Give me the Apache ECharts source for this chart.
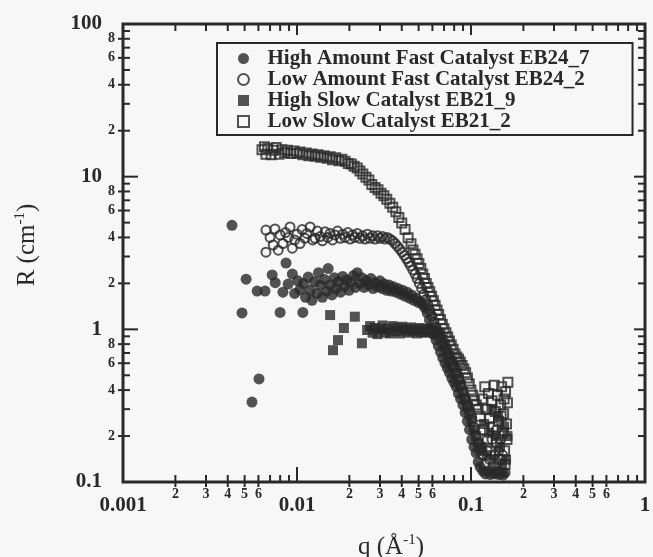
<!DOCTYPE html>
<html><head><meta charset="utf-8">
<script src="https://cdn.jsdelivr.net/npm/echarts@6/dist/echarts.min.js"></script>
<style>html,body{margin:0;padding:0;background:#f7f7f5}#c{width:653px;height:557px}</style>
</head><body><div id="c"></div>
<script>
const seriesNames = ['High Amount Fast Catalyst EB24_7','Low Amount Fast Catalyst EB24_2','High Slow Catalyst EB21_9','Low Slow Catalyst EB21_2'];

const highFastEB24_7 = [[0.00423,4.8],[0.00483,1.28],[0.0051,2.13],[0.00551,0.334],[0.00605,0.473],[0.0059,1.78],[0.00655,1.78],[0.0072,2.27],[0.0075,2.02],[0.0080,1.29],[0.0083,1.75],[0.00865,2.72],[0.0089,1.98],[0.0094,2.3],[0.0097,1.72],[0.0101,2.08],[0.0104,1.82],[0.0108,1.29],[0.0109,2.0],[0.0112,1.62],[0.0116,2.2],[0.0119,1.8],[0.0122,1.55],[0.0126,2.05],[0.013,1.72],[0.0133,2.35],[0.0136,1.95],[0.014,1.62],[0.0144,2.12],[0.0148,1.78],[0.0151,2.5],[0.0155,1.95],[0.0159,1.68],[0.0164,2.18],[0.0168,1.85],[0.0173,2.05],[0.0178,1.75],[0.0183,2.22],[0.0188,1.92],[0.0193,2.1],[0.0199,1.8],[0.0205,2.05],[0.0211,2.25],[0.0217,1.88],[0.0222,2.35],[0.0229,2.0],[0.0236,2.18],[0.0243,1.88],[0.025,2.08],[0.0258,1.95],[0.0266,2.15],[0.0274,1.85],[0.0282,2.02],[0.0291,1.9],[0.03,2.08],[0.0309,1.85],[0.0318,1.98],[0.0328,1.8],[0.0338,1.95],[0.0348,1.78],[0.0359,1.9],[0.037,1.75],[0.0381,1.85],[0.0393,1.7],[0.0405,1.8],[0.0417,1.65],[0.043,1.75],[0.0443,1.6],[0.0456,1.68],[0.047,1.55],[0.0484,1.6],[0.0498,1.5],[0.0513,1.52],[0.0528,1.45],[0.0544,1.38],[0.056,1.28],[0.0577,1.15],[0.0594,1.02],[0.0612,0.92],[0.063,0.85],[0.0649,0.78],[0.0668,0.71],[0.0688,0.65],[0.0709,0.6],[0.073,0.56],[0.0752,0.52],[0.0775,0.48],[0.0798,0.45],[0.0822,0.42],[0.0847,0.38],[0.0872,0.35],[0.0898,0.32],[0.0925,0.285],[0.0953,0.25],[0.0981,0.22],[0.101,0.19],[0.104,0.17],[0.107,0.155],[0.11,0.135],[0.113,0.125],[0.117,0.118],[0.121,0.113],[0.125,0.118],[0.129,0.112],[0.133,0.12],[0.137,0.113],[0.141,0.118],[0.145,0.112],[0.149,0.116],[0.153,0.111],[0.157,0.115]];

const lowFastEB24_2 = [[0.00663,4.47],[0.00663,3.2],[0.007,4.0],[0.0073,3.57],[0.00747,4.55],[0.0078,3.3],[0.008,4.15],[0.0083,3.65],[0.0086,4.3],[0.0089,4.0],[0.00912,4.68],[0.0094,3.4],[0.0097,3.85],[0.01,4.2],[0.0104,3.65],[0.0107,4.5],[0.0111,3.95],[0.0114,4.25],[0.0119,4.68],[0.0123,3.85],[0.0127,3.95],[0.0131,4.4],[0.0136,4.05],[0.014,3.8],[0.0145,4.35],[0.015,4.0],[0.0155,4.25],[0.016,3.85],[0.0165,4.15],[0.0171,4.4],[0.0177,3.95],[0.0183,4.2],[0.0189,4.0],[0.0196,4.3],[0.0202,3.9],[0.0209,4.15],[0.0215,4.0],[0.0222,4.25],[0.023,3.95],[0.0238,4.1],[0.0246,3.9],[0.0254,4.2],[0.0263,3.95],[0.0272,4.1],[0.0281,3.9],[0.029,4.1],[0.03,3.95],[0.031,4.05],[0.032,3.9],[0.033,4.0],[0.0342,3.9],[0.0354,3.8],[0.0366,3.65],[0.0378,3.5],[0.039,3.35],[0.0402,3.2],[0.0414,3.05],[0.0426,2.9],[0.0438,2.75],[0.045,2.6],[0.0463,2.45],[0.0477,2.3],[0.049,2.15],[0.0505,2.0],[0.052,1.85],[0.0535,1.7],[0.055,1.57],[0.0566,1.45],[0.058,1.33],[0.0597,1.22],[0.0613,1.12],[0.063,1.03],[0.0649,0.95],[0.0668,0.88],[0.0688,0.81],[0.0709,0.75],[0.073,0.69],[0.0752,0.64],[0.0775,0.59],[0.0798,0.55],[0.0822,0.51],[0.0847,0.47],[0.0872,0.43],[0.0898,0.39],[0.0925,0.35],[0.0953,0.32],[0.0981,0.29],[0.101,0.26],[0.104,0.23],[0.107,0.2],[0.11,0.18],[0.113,0.165],[0.117,0.15],[0.12,0.13],[0.124,0.16],[0.128,0.14],[0.132,0.19],[0.136,0.15],[0.14,0.22],[0.144,0.16],[0.148,0.19],[0.152,0.15]];

const highSlowEB21_9 = [[0.0155,1.24],[0.0161,0.73],[0.0172,0.85],[0.0186,1.02],[0.0215,1.21],[0.0236,0.81],[0.0253,0.99],[0.0263,1.05],[0.0272,0.95],[0.0281,1.02],[0.029,0.93],[0.03,1.0],[0.031,1.06],[0.032,0.95],[0.0331,1.01],[0.0342,0.94],[0.0354,1.05],[0.0366,0.97],[0.0378,1.02],[0.039,0.94],[0.0402,1.04],[0.0414,0.98],[0.0426,1.01],[0.0438,0.95],[0.045,1.03],[0.0463,0.97],[0.0477,1.0],[0.049,0.94],[0.0505,1.02],[0.052,0.96],[0.0535,1.0],[0.055,0.95],[0.0566,1.01],[0.058,0.96],[0.0597,0.99],[0.0613,0.95],[0.063,0.98],[0.0649,0.94],[0.0668,0.93],[0.0688,0.86],[0.0709,0.8],[0.073,0.73],[0.0752,0.67],[0.0775,0.62],[0.0798,0.57],[0.0822,0.52],[0.0847,0.47],[0.0872,0.43],[0.0898,0.39],[0.0925,0.35],[0.0953,0.31],[0.0981,0.28],[0.101,0.25],[0.104,0.22],[0.107,0.2],[0.11,0.18],[0.113,0.16],[0.115,0.17],[0.119,0.24],[0.123,0.15],[0.127,0.21],[0.131,0.3],[0.135,0.14],[0.139,0.2],[0.143,0.27],[0.147,0.17],[0.151,0.13],[0.155,0.23],[0.159,0.14],[0.162,0.2]];

const lowSlowEB21_2 = [[0.00629,15.0],[0.0065,15.7],[0.00663,14.0],[0.0068,15.3],[0.0071,13.9],[0.0073,14.9],[0.0076,15.5],[0.0079,14.0],[0.0082,15.0],[0.0085,14.4],[0.0088,14.9],[0.0092,14.2],[0.0096,14.7],[0.01,14.2],[0.0104,14.5],[0.0108,13.9],[0.0113,14.3],[0.0117,13.7],[0.0122,14.1],[0.0127,13.6],[0.0132,13.9],[0.0137,13.4],[0.0143,13.7],[0.0149,13.2],[0.0155,13.5],[0.016,12.9],[0.0167,13.3],[0.0174,12.7],[0.0181,13.0],[0.0189,12.6],[0.0197,12.2],[0.0205,12.1],[0.0213,11.7],[0.0222,11.4],[0.023,10.9],[0.0239,10.4],[0.0249,9.9],[0.0259,9.5],[0.0269,8.9],[0.0281,8.5],[0.0292,8.2],[0.0304,7.8],[0.0316,7.5],[0.0328,7.1],[0.0342,6.7],[0.0355,6.3],[0.037,5.9],[0.0385,5.4],[0.04,4.98],[0.0418,4.5],[0.0435,3.98],[0.0452,3.63],[0.0464,3.31],[0.0477,3.1],[0.049,2.9],[0.0502,2.7],[0.0515,2.5],[0.0528,2.3],[0.054,2.15],[0.0553,2.0],[0.0566,1.88],[0.058,1.76],[0.0594,1.65],[0.0608,1.54],[0.0622,1.44],[0.0638,1.34],[0.0652,1.25],[0.0668,1.16],[0.0684,1.08],[0.07,1.01],[0.0718,0.95],[0.0735,0.89],[0.0752,0.84],[0.077,0.79],[0.0789,0.74],[0.0809,0.69],[0.0828,0.66],[0.0848,0.64],[0.0868,0.61],[0.0889,0.58],[0.091,0.55],[0.0932,0.52],[0.0954,0.48],[0.0977,0.44],[0.1,0.4],[0.1024,0.37],[0.1049,0.34],[0.1074,0.32],[0.11,0.3],[0.113,0.27],[0.116,0.35],[0.118,0.22],[0.12,0.42],[0.122,0.3],[0.124,0.19],[0.126,0.38],[0.128,0.26],[0.13,0.16],[0.132,0.34],[0.134,0.23],[0.136,0.43],[0.138,0.29],[0.14,0.18],[0.142,0.37],[0.144,0.25],[0.146,0.14],[0.148,0.32],[0.15,0.42],[0.152,0.21],[0.154,0.28],[0.156,0.16],[0.158,0.39],[0.16,0.24],[0.162,0.33],[0.163,0.45],[0.161,0.19],[0.157,0.13],[0.155,0.35],[0.149,0.27]];

const xMajorLabels = ['0.001','0.01','0.1','1'];
const yMajorLabels = ['0.1','1','10','100'];
const xInnerMajors = [0.01,0.1];
const yInnerMajors = [1,10];
const xMinorLabelDigits = [2,3,4,5,6];
const yMinorLabelDigits = [2,4,6,8];
const minorMultipliers = [2,3,4,5,6,7,8,9];
const xDecades = [0.001,0.01,0.1];
const yDecades = [0.1,1,10];

const ink = '#2b2828';
const serif = '"Liberation Serif", "DejaVu Serif", serif';
const squareIcon = 'path://M0 0H10V10H0Z';

function tickRender(params, api) {
  const cs = params.coordSys;
  const L = cs.x, Rt = cs.x + cs.width, T = cs.y, B = cs.y + cs.height;
  const kids = [];
  kids.push({type:'rect', shape:{x:L, y:T, width:Rt-L, height:B-T}, style:{fill:null, stroke:ink, lineWidth:3}});
  const seg = (x1,y1,x2,y2) => kids.push({type:'line', shape:{x1,y1,x2,y2}, style:{stroke:ink, lineWidth:2}});
  const label = (x,y,t,align,va) => kids.push({type:'text', style:{x:x, y:y, text:String(t), align:align, verticalAlign:va, fill:ink, font:'bold 14px "Liberation Serif", serif'}});
  xInnerMajors.forEach(v => {
    const px = api.coord([v, 1])[0];
    seg(px, B, px, B - 15);
    seg(px, T, px, T + 11);
  });
  yInnerMajors.forEach(v => {
    const py = api.coord([0.01, v])[1];
    seg(L, py, L + 15, py);
    seg(Rt, py, Rt - 11, py);
  });
  xDecades.forEach(d => minorMultipliers.forEach(m => {
    const px = api.coord([d*m, 1])[0];
    const lab = xMinorLabelDigits.includes(m);
    seg(px, B + (lab ? 5 : 0), px, B - 7);
    seg(px, T, px, T + 7);
    if (lab) label(px, B + 5, m, 'center', 'top');
  }));
  yDecades.forEach(d => minorMultipliers.forEach(m => {
    const py = api.coord([0.01, d*m])[1];
    const lab = yMinorLabelDigits.includes(m);
    seg(L - (lab ? 5 : 0), py, L + 7, py);
    seg(Rt, py, Rt - 7, py);
    if (lab) label(L - 8, py, m, 'right', 'middle');
  }));
  return {type:'group', children:kids};
}

const chart = echarts.init(document.getElementById('c'), null, {renderer:'canvas'});
const baseLabel = {color:ink, fontFamily:serif, fontWeight:'bold', fontSize:21};
const scatterBase = {type:'scatter', animation:false, silent:true, emphasis:{disabled:true}};
const titleRich = {t:{fontFamily:serif, fontSize:25, color:ink}, s:{fontFamily:serif, fontSize:15, color:ink, padding:[0,0,13,0]}};

chart.setOption({
  backgroundColor:'#f7f7f5',
  animation:false,
  grid:{left:123, right:8, top:24, bottom:75, containLabel:false, outerBoundsMode:'none'},
  xAxis:[
    {type:'log', logBase:10, min:0.001, max:1, position:'bottom',
     axisLine:{show:false}, axisTick:{show:false},
     axisLabel:Object.assign({show:true, margin:13, formatter:v => xMajorLabels[Math.round(Math.log10(v)) + 3]}, baseLabel),
     splitLine:{show:false},
     name:'{t|q (Å}{s|-1}{t|)}', nameLocation:'middle', nameGap:51,
     nameTextStyle:{padding:[0,0,0,14], rich:titleRich}}
  ],
  yAxis:[
    {type:'log', logBase:10, min:0.1, max:100, position:'left',
     axisLine:{show:false}, axisTick:{show:false},
     axisLabel:Object.assign({show:true, margin:21, formatter:v => yMajorLabels[Math.round(Math.log10(v)) + 1]}, baseLabel),
     splitLine:{show:false},
     name:'{t|R (cm}{s|-1}{t|)}', nameLocation:'middle', nameGap:82,
     nameTextStyle:{padding:[0,0,0,16], rich:titleRich}}
  ],
  legend:{
    orient:'vertical', left:217, top:43, padding:[5,43,3,20], itemGap:0,
    itemWidth:38, itemHeight:11, borderColor:ink, borderWidth:2, selectedMode:false, symbolKeepAspect:true,
    textStyle:{fontFamily:serif, fontWeight:'bold', fontSize:21, color:ink, lineHeight:20},
    data:[
      {name:seriesNames[0], icon:'circle', itemStyle:{color:ink, borderWidth:0}},
      {name:seriesNames[1], icon:'circle', itemStyle:{color:'rgba(0,0,0,0)', borderColor:ink, borderWidth:2}},
      {name:seriesNames[2], icon:squareIcon, itemStyle:{color:ink, borderWidth:0}},
      {name:seriesNames[3], icon:squareIcon, itemStyle:{color:'rgba(0,0,0,0)', borderColor:ink, borderWidth:2}}
    ]
  },
  series:[
    Object.assign({name:seriesNames[0], data:highFastEB24_7, symbol:'circle', symbolSize:11, itemStyle:{color:ink}}, scatterBase),
    Object.assign({name:seriesNames[1], data:lowFastEB24_2, symbol:'circle', symbolSize:9, itemStyle:{color:'rgba(0,0,0,0)', borderColor:ink, borderWidth:2}}, scatterBase),
    Object.assign({name:seriesNames[2], data:highSlowEB21_9, symbol:'rect', symbolSize:10, itemStyle:{color:ink}}, scatterBase),
    Object.assign({name:seriesNames[3], data:lowSlowEB21_2, symbol:'rect', symbolSize:9, itemStyle:{color:'rgba(0,0,0,0)', borderColor:ink, borderWidth:2}}, scatterBase),
    {type:'custom', renderItem:tickRender, data:[[0.01,1]], silent:true, animation:false, z:10, clip:false}
  ]
});
</script></body></html>
